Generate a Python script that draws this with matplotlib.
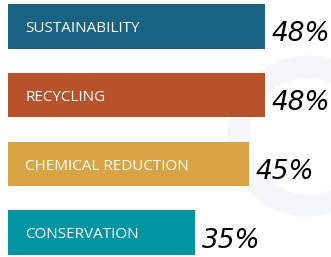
import matplotlib
matplotlib.use("Agg")
import matplotlib.pyplot as plt
from matplotlib.patches import Ellipse

# 数据
categories = ["SUSTAINABILITY", "RECYCLING", "CHEMICAL REDUCTION", "CONSERVATION"]
values = [48, 48, 45, 35]
colors = ["#1a6282", "#b8522a", "#d9a444", "#0095a1"]

fig = plt.figure(figsize=(3.31, 2.57), dpi=100)
ax = fig.add_axes([0, 0, 1, 1])

# 背景水印(很浅的灰色)
ax.add_patch(Ellipse((0.93, 0.47), 0.42, 0.54, transform=ax.transAxes,
                     facecolor="none", edgecolor="#f5f6f8", linewidth=16, zorder=0))

y = range(len(categories))
ax.barh(y, values, height=0.65, color=colors, zorder=2)

for i, (cat, v) in enumerate(zip(categories, values)):
    ax.text(3.2, i + 0.03, cat, color="white", fontsize=11, va="center",
            ha="left", family=["Open Sans", "DejaVu Sans"], zorder=3)
    ax.text(v + 1.3, i + 0.12, f"{v}%", color="black", fontsize=19, va="center",
            ha="left", style="italic",
            family=["Liberation Sans Narrow", "DejaVu Sans"], zorder=3)

ax.set_xlim(-1.5, 60.4)
ax.set_ylim(3.35, -0.38)
ax.axis("off")

fig.savefig("out.png", dpi=100)
